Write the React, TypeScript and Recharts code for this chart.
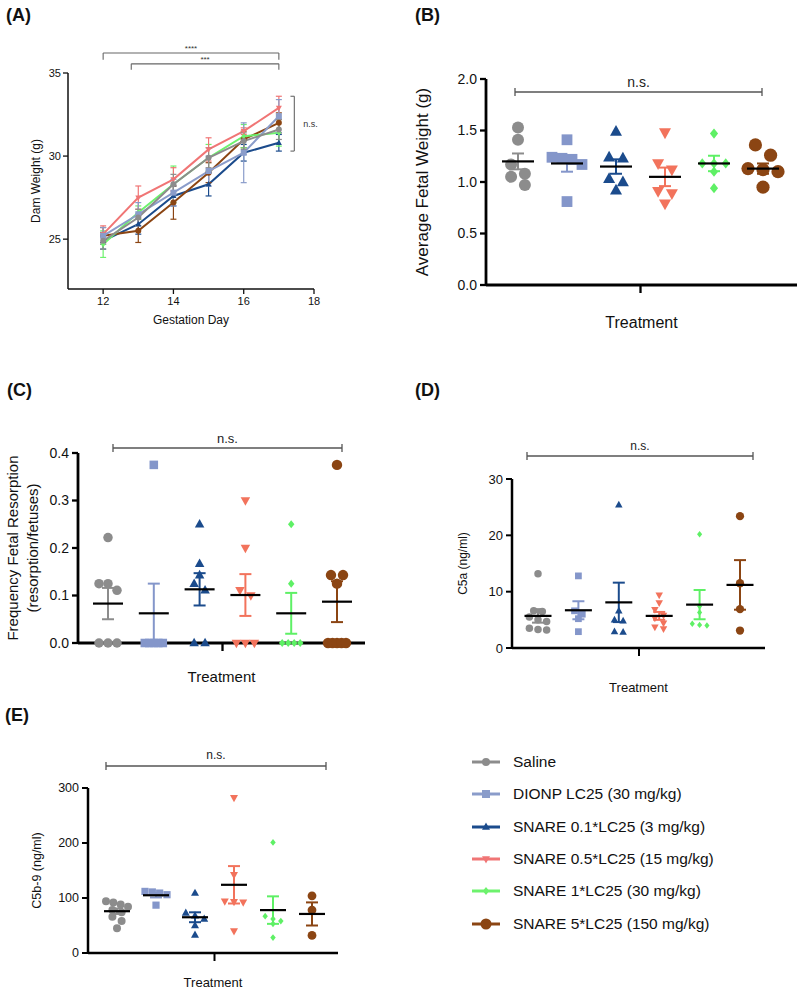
import React from "react";
import {
  ComposedChart,
  Line,
  Scatter,
  XAxis,
  YAxis,
  ErrorBar,
  ReferenceLine,
  Label,
} from "recharts";

const FONT = "'Liberation Sans', Arial, Helvetica, sans-serif";

// treatment groups (legend order)
const groupNames = [
  "Saline",
  "DIONP LC25 (30 mg/kg)",
  "SNARE 0.1*LC25 (3 mg/kg)",
  "SNARE 0.5*LC25 (15 mg/kg)",
  "SNARE 1*LC25 (30 mg/kg)",
  "SNARE 5*LC25 (150 mg/kg)",
];
const groupColors = ["#8c8c8c", "#8496ca", "#1b4b8c", "#f2735c", "#5ef065", "#8b4513"];
const lineColors = ["#8c8c8c", "#8a9cca", "#1b4b8c", "#f07575", "#6df26d", "#8b4513"];
const groupMarkers = ["circle", "square", "triangle", "down", "diamond", "circle"];
const markerScale = [1, 0.9, 1, 1, 0.85, 1.1];

// (A) dam weight by gestation day
const gestationDays = [12, 13, 14, 15, 16, 17];
const damSaline = [24.9, 26.3, 28.3, 29.9, 30.9, 31.6];
const damDionp = [25.2, 26.5, 27.8, 29.1, 30.2, 32.4];
const damSnare01 = [24.9, 25.9, 27.6, 28.3, 30.2, 30.8];
const damSnare05 = [25.3, 27.5, 28.6, 30.4, 31.5, 32.9];
const damSnare1 = [24.7, 26.6, 28.3, 29.9, 31.2, 31.4];
const damSnare5 = [25.2, 25.5, 27.2, 29.0, 31.0, 32.0];
const damSemSaline = [0.5, 0.5, 0.6, 0.6, 0.5, 0.6];
const damSemDionp = [0.5, 0.7, 0.8, 0.9, 1.8, 1.0];
const damSemSnare01 = [0.5, 0.6, 0.6, 0.7, 0.5, 0.5];
const damSemSnare05 = [0.5, 0.7, 0.7, 0.7, 0.2, 0.7];
const damSemSnare1 = [0.8, 0.4, 1.1, 0.8, 0.7, 0.8];
const damSemSnare5 = [0.5, 0.7, 1.0, 0.6, 0.5, 0.6];
const damTicksX = [12, 14, 16, 18];
const damTicksY = [25, 30, 35];

// (B) average fetal weight
const fetalSaline = [1.53, 1.41, 1.17, 1.08, 1.05, 0.97];
const fetalDionp = [1.41, 1.24, 1.23, 1.22, 1.17, 0.81];
const fetalSnare01 = [1.49, 1.24, 1.23, 1.03, 1.0, 0.92];
const fetalSnare05 = [1.48, 1.18, 1.12, 0.91, 0.89, 0.79];
const fetalSnare1 = [1.47, 1.18, 1.18, 1.18, 1.1, 0.94];
const fetalSnare5 = [1.36, 1.26, 1.13, 1.12, 1.1, 0.95];
const fetalMean = [1.2, 1.18, 1.15, 1.05, 1.18, 1.13];
const fetalSem = [0.077, 0.08, 0.07, 0.09, 0.075, 0.05];
const fetalTicks = [0, 0.5, 1, 1.5, 2];

// (C) frequency of fetal resorption
const resSaline = [0.222, 0.125, 0.125, 0.111, 0, 0, 0];
const resDionp = [0.375, 0, 0, 0, 0, 0];
const resSnare01 = [0.25, 0.167, 0.143, 0.125, 0.111, 0, 0];
const resSnare05 = [0.3, 0.2, 0.111, 0.1, 0, 0, 0];
const resSnare1 = [0.25, 0.125, 0, 0, 0, 0];
const resSnare5 = [0.375, 0.143, 0.143, 0.125, 0, 0, 0, 0, 0];
const resMean = [0.083, 0.0625, 0.113, 0.101, 0.0625, 0.087];
const resSem = [0.033, 0.0625, 0.034, 0.044, 0.043, 0.043];
const resTicks = [0, 0.1, 0.2, 0.3, 0.4];

// (D) C5a
const c5aSaline = [13.2, 6.6, 6.5, 5.5, 5.0, 4.7, 3.5, 3.3, 3.2];
const c5aDionp = [12.8, 6.6, 6.0, 5.2, 2.9];
const c5aSnare01 = [25.4, 6.6, 5.0, 4.8, 2.9, 2.8];
const c5aSnare05 = [9.4, 8.0, 6.8, 5.8, 5.3, 4.4, 3.7, 3.4];
const c5aSnare1 = [20.2, 7.4, 6.3, 4.3, 4.1, 4.0];
const c5aSnare5 = [23.4, 11.5, 6.9, 3.1];
const c5aMean = [5.7, 6.7, 8.1, 5.7, 7.7, 11.2];
const c5aSem = [1.2, 1.6, 3.5, 0.7, 2.6, 4.4];
const c5aTicks = [0, 10, 20, 30];

// (E) C5b-9
const c5bSaline = [94, 92, 88, 84, 78, 74, 66, 58, 45];
const c5bDionp = [112, 111, 109, 106, 87];
const c5bSnare01 = [109, 73, 68, 62, 50, 33];
const c5bSnare05 = [282, 142, 94, 93, 92, 40];
const c5bSnare1 = [201, 67, 62, 58, 53, 28];
const c5bSnare5 = [104, 78, 32];
const c5bMean = [76, 105, 65, 124, 78, 71];
const c5bSem = [5, 4, 9, 34, 25, 21];
const c5bTicks = [0, 100, 200, 300];

function Marker({ kind, cx, cy, size, color }: { kind: string; cx?: number; cy?: number; size: number; color: string }) {
  if (cx == null || cy == null) return null;
  const r = size / 2;
  if (kind === "circle") return <circle cx={cx} cy={cy} r={r} fill={color} />;
  if (kind === "square")
    return <rect x={cx - r} y={cy - r} width={size} height={size} fill={color} />;
  if (kind === "triangle")
    return <polygon points={`${cx},${cy - r * 1.1} ${cx + r},${cy + r * 0.7} ${cx - r},${cy + r * 0.7}`} fill={color} />;
  if (kind === "down")
    return <polygon points={`${cx},${cy + r * 1.1} ${cx + r},${cy - r * 0.7} ${cx - r},${cy - r * 0.7}`} fill={color} />;
  return <polygon points={`${cx},${cy - r} ${cx + r * 0.8},${cy} ${cx},${cy + r} ${cx - r * 0.8},${cy}`} fill={color} />;
}

// simple column scatter layout: rows of close values are spread sideways
function spread(vals: number[], pxPerUnit: number, diam: number, maxW: number) {
  const order = vals.map((v, i) => ({ v, i })).sort((a, b) => b.v - a.v);
  const offs = vals.map(() => 0);
  let row: { v: number; i: number }[] = [];
  const flush = () => {
    const n = row.length;
    const gap = n > 1 ? Math.min(diam * 1.15, maxW / (n - 1)) : 0;
    row.forEach((p, k) => (offs[p.i] = (k - (n - 1) / 2) * gap));
    row = [];
  };
  order.forEach((p) => {
    if (row.length && (row[0].v - p.v) * pxPerUnit > diam * 0.8) flush();
    row.push(p);
  });
  flush();
  return offs;
}

type Box = { left: number; top: number; width: number; height: number };
type Plot = { left: number; right: number; top: number; bottom: number };

function DotPanel(props: {
  box: Box;
  plot: Plot;
  g1: number;
  step: number;
  yMax: number;
  yTicks: number[];
  decimals: number;
  values: number[][];
  means: number[];
  sems: number[];
  marker: number;
  meanHalf: number;
  capHalf: number;
  tickFont: number;
  titles: { text: string; x: number }[];
  titleFont: number;
  xTitleFont: number;
  xTitleBase: number;
  xAxisH: number;
  bracket: { y: number; x1: number; x2: number; nsOffset: number; font: number };
  axisW: number;
  maxW: number;
}) {
  const { box, plot, g1, step, yMax } = props;
  const margin = {
    top: plot.top - box.top,
    right: box.left + box.width - plot.right,
    bottom: box.top + box.height - plot.bottom - props.xAxisH,
    left: 0,
  };
  const ppu = (plot.bottom - plot.top) / yMax;
  const toX = (px: number) => 1 + (px - g1) / step;
  const xDomain = [toX(plot.left), toX(plot.right)];
  const yb = (plot.bottom - props.bracket.y) / ppu;
  const tk = 4 / ppu;
  const bx1 = toX(props.bracket.x1);
  const bx2 = toX(props.bracket.x2);
  const bStroke = { stroke: "#555", strokeWidth: 1.3, ifOverflow: "visible" as const };

  return (
    <div style={{ position: "absolute", left: box.left, top: box.top }}>
      <ComposedChart width={box.width} height={box.height} margin={margin}>
        <XAxis
          type="number"
          dataKey="x"
          domain={xDomain}
          ticks={[3.5]}
          tickFormatter={() => ""}
          tickSize={8}
          height={props.xAxisH}
          axisLine={{ stroke: "#000", strokeWidth: props.axisW }}
          tickLine={{ stroke: "#000", strokeWidth: props.axisW - 0.5 }}
        >
          <Label
            value="Treatment"
            position="insideBottom"
            offset={plot.bottom + props.xAxisH - props.xTitleBase}
            style={{ fontSize: props.xTitleFont, fill: "#111" }}
          />
        </XAxis>
        <YAxis
          type="number"
          dataKey="y"
          domain={[0, yMax]}
          ticks={props.yTicks}
          width={plot.left - box.left}
          tickFormatter={(v: number) => v.toFixed(props.decimals)}
          tick={{ fontSize: props.tickFont, fill: "#111" }}
          tickSize={6}
          tickMargin={3}
          axisLine={{ stroke: "#000", strokeWidth: props.axisW }}
          tickLine={{ stroke: "#000", strokeWidth: props.axisW - 0.5 }}
        >
          {props.titles.map((t) => (
            <Label
              key={t.text}
              value={t.text}
              angle={-90}
              position="insideLeft"
              offset={t.x - box.left}
              style={{ textAnchor: "middle", fontSize: props.titleFont, fill: "#111" }}
            />
          ))}
        </YAxis>
        <ReferenceLine
          segment={[{ x: bx1, y: yb }, { x: bx2, y: yb }]}
          {...bStroke}
          label={{ value: "n.s.", position: "top", offset: props.bracket.nsOffset, fontSize: props.bracket.font, fill: "#222" }}
        />
        <ReferenceLine segment={[{ x: bx1, y: yb - tk }, { x: bx1, y: yb + tk }]} {...bStroke} />
        <ReferenceLine segment={[{ x: bx2, y: yb - tk }, { x: bx2, y: yb + tk }]} {...bStroke} />
        {props.values.map((vals, gi) => {
          const size = props.marker * markerScale[gi];
          const offs = spread(vals, ppu, size, props.maxW);
          const pts = vals.map((v, k) => ({ x: gi + 1 + offs[k] / step, y: v }));
          return (
            <Scatter
              key={"p" + gi}
              data={pts}
              isAnimationActive={false}
              shape={(p: any) => (
                <Marker kind={groupMarkers[gi]} cx={p.cx} cy={p.cy} size={size} color={groupColors[gi]} />
              )}
            />
          );
        })}
        {props.means.map((m, gi) => (
          <Scatter
            key={"m" + gi}
            data={[{ x: gi + 1, y: m, e: props.sems[gi] }]}
            isAnimationActive={false}
            shape={(p: any) => (
              <line
                x1={p.cx - props.meanHalf}
                x2={p.cx + props.meanHalf}
                y1={p.cy}
                y2={p.cy}
                stroke="#000"
                strokeWidth={2.2}
              />
            )}
          >
            <ErrorBar dataKey="e" direction="y" width={props.capHalf} stroke={groupColors[gi]} strokeWidth={2} />
          </Scatter>
        ))}
      </ComposedChart>
    </div>
  );
}

function DamPanel() {
  const series = [damSaline, damDionp, damSnare01, damSnare05, damSnare1, damSnare5];
  const sems = [damSemSaline, damSemDionp, damSemSnare01, damSemSnare05, damSemSnare1, damSemSnare5];
  const drawOrder = [2, 5, 4, 3, 1, 0];
  const br = { stroke: "#666", strokeWidth: 1.1, ifOverflow: "visible" as const };
  return (
    <div style={{ position: "absolute", left: 0, top: 0 }}>
      <ComposedChart width={340} height={330} margin={{ top: 73, right: 26, bottom: 1, left: 0 }}>
        <XAxis
          type="number"
          dataKey="x"
          domain={[11, 18]}
          ticks={damTicksX}
          height={40}
          tick={{ fontSize: 11, fill: "#111" }}
          tickSize={5}
          tickMargin={3}
          axisLine={{ stroke: "#111", strokeWidth: 1.5 }}
          tickLine={{ stroke: "#111", strokeWidth: 1.3 }}
        >
          <Label value="Gestation Day" position="insideBottom" offset={5} style={{ fontSize: 12, fill: "#111" }} />
        </XAxis>
        <YAxis
          type="number"
          dataKey="y"
          domain={[22, 35]}
          ticks={damTicksY}
          width={68}
          tick={{ fontSize: 11, fill: "#111" }}
          tickSize={5}
          tickMargin={2}
          axisLine={{ stroke: "#111", strokeWidth: 1.5 }}
          tickLine={{ stroke: "#111", strokeWidth: 1.3 }}
        >
          <Label
            value="Dam Weight (g)"
            angle={-90}
            position="insideLeft"
            offset={36}
            style={{ textAnchor: "middle", fontSize: 12, fill: "#111" }}
          />
        </YAxis>
        <ReferenceLine
          segment={[{ x: 12, y: 36.2 }, { x: 17, y: 36.2 }]}
          {...br}
          label={{ value: "****", position: "top", offset: 2, fontSize: 8, fill: "#333" }}
        />
        <ReferenceLine segment={[{ x: 12, y: 36.2 }, { x: 12, y: 35.8 }]} {...br} />
        <ReferenceLine segment={[{ x: 17, y: 36.2 }, { x: 17, y: 35.8 }]} {...br} />
        <ReferenceLine
          segment={[{ x: 12.8, y: 35.55 }, { x: 17, y: 35.55 }]}
          {...br}
          label={{ value: "***", position: "top", offset: 2, fontSize: 8, fill: "#333" }}
        />
        <ReferenceLine segment={[{ x: 12.8, y: 35.55 }, { x: 12.8, y: 35.2 }]} {...br} />
        <ReferenceLine segment={[{ x: 17, y: 35.55 }, { x: 17, y: 35.2 }]} {...br} />
        <ReferenceLine
          segment={[{ x: 17.44, y: 33.6 }, { x: 17.44, y: 30.3 }]}
          {...br}
          label={{ value: "n.s.", position: "right", offset: 9, fontSize: 9, fill: "#333" }}
        />
        <ReferenceLine segment={[{ x: 17.33, y: 33.6 }, { x: 17.44, y: 33.6 }]} {...br} />
        <ReferenceLine segment={[{ x: 17.33, y: 30.3 }, { x: 17.44, y: 30.3 }]} {...br} />
        {drawOrder.map((gi) => (
          <Line
            key={gi}
            data={gestationDays.map((d, k) => ({ x: d, y: series[gi][k], e: sems[gi][k] }))}
            dataKey="y"
            stroke={lineColors[gi]}
            strokeWidth={2}
            isAnimationActive={false}
            dot={(p: any) => (
              <Marker key={p.index} kind={groupMarkers[gi]} cx={p.cx} cy={p.cy} size={6} color={lineColors[gi]} />
            )}
          >
            <ErrorBar dataKey="e" direction="y" width={3} stroke={lineColors[gi]} strokeWidth={1.2} />
          </Line>
        ))}
      </ComposedChart>
    </div>
  );
}

function Legend() {
  return (
    <div style={{ position: "absolute", left: 472, top: 746 }}>
      {groupNames.map((g, i) => (
        <div key={g} style={{ height: 32.3, display: "flex", alignItems: "center" }}>
          <svg width={30} height={16}>
            <line x1={0} x2={28} y1={8} y2={8} stroke={lineColors[i]} strokeWidth={3} />
            <Marker kind={groupMarkers[i]} cx={14} cy={8} size={i === 5 ? 11 : 8} color={lineColors[i]} />
          </svg>
          <span style={{ marginLeft: 11, fontSize: 15.5, color: "#111" }}>{g}</span>
        </div>
      ))}
    </div>
  );
}

const panelLabel = (text: string, left: number, top: number) => (
  <div
    style={{ position: "absolute", left, top, fontSize: 18, fontWeight: "bold", lineHeight: "18px", color: "#111" }}
  >
    {text}
  </div>
);

export default function App() {
  return (
    <div
      style={{
        position: "absolute",
        left: 0,
        top: 0,
        width: 800,
        height: 989,
        background: "#fff",
        fontFamily: FONT,
        overflow: "hidden",
      }}
    >
      {panelLabel("(A)", 6, 6)}
      {panelLabel("(B)", 415, 6)}
      {panelLabel("(C)", 7, 381)}
      {panelLabel("(D)", 415, 381)}
      {panelLabel("(E)", 5, 706)}
      <DamPanel />
      <DotPanel
        box={{ left: 400, top: 40, width: 400, height: 300 }}
        plot={{ left: 486, right: 797, top: 79, bottom: 285 }}
        g1={518}
        step={49}
        yMax={2}
        yTicks={fetalTicks}
        decimals={1}
        values={[fetalSaline, fetalDionp, fetalSnare01, fetalSnare05, fetalSnare1, fetalSnare5]}
        means={fetalMean}
        sems={fetalSem}
        marker={12}
        meanHalf={16}
        capHalf={6}
        tickFont={14}
        titles={[{ text: "Average Fetal Weight (g)", x: 422 }]}
        titleFont={17}
        xTitleFont={16}
        xTitleBase={328}
        xAxisH={48}
        bracket={{ y: 92, x1: 515, x2: 762, nsOffset: 5, font: 14 }}
        axisW={2.8}
        maxW={30}
      />
      <DotPanel
        box={{ left: 0, top: 400, width: 380, height: 290 }}
        plot={{ left: 78, right: 365, top: 453, bottom: 643 }}
        g1={108}
        step={45.8}
        yMax={0.4}
        yTicks={resTicks}
        decimals={1}
        values={[resSaline, resDionp, resSnare01, resSnare05, resSnare1, resSnare5]}
        means={resMean}
        sems={resSem}
        marker={9.5}
        meanHalf={15}
        capHalf={6}
        tickFont={14}
        titles={[
          { text: "Frequency Fetal Resorption", x: 13 },
          { text: "(resorption/fetuses)", x: 33 },
        ]}
        titleFont={15}
        xTitleFont={15}
        xTitleBase={682}
        xAxisH={44}
        bracket={{ y: 448, x1: 113, x2: 342, nsOffset: 5, font: 13 }}
        axisW={2.8}
        maxW={18}
      />
      <DotPanel
        box={{ left: 400, top: 410, width: 380, height: 290 }}
        plot={{ left: 512, right: 765, top: 479, bottom: 648 }}
        g1={538}
        step={40.4}
        yMax={30}
        yTicks={c5aTicks}
        decimals={0}
        values={[c5aSaline, c5aDionp, c5aSnare01, c5aSnare05, c5aSnare1, c5aSnare5]}
        means={c5aMean}
        sems={c5aSem}
        marker={7.5}
        meanHalf={13.5}
        capHalf={6}
        tickFont={13}
        titles={[{ text: "C5a (ng/ml)", x: 463 }]}
        titleFont={12}
        xTitleFont={13}
        xTitleBase={692}
        xAxisH={49}
        bracket={{ y: 456, x1: 527, x2: 753, nsOffset: 6, font: 12 }}
        axisW={2.5}
        maxW={24}
      />
      <DotPanel
        box={{ left: 0, top: 740, width: 360, height: 249 }}
        plot={{ left: 88, right: 338, top: 788, bottom: 953 }}
        g1={117}
        step={39}
        yMax={300}
        yTicks={c5bTicks}
        decimals={0}
        values={[c5bSaline, c5bDionp, c5bSnare01, c5bSnare05, c5bSnare1, c5bSnare5]}
        means={c5bMean}
        sems={c5bSem}
        marker={8}
        meanHalf={13}
        capHalf={6}
        tickFont={12.5}
        titles={[{ text: "C5b-9 (ng/ml)", x: 37 }]}
        titleFont={12.5}
        xTitleFont={13}
        xTitleBase={987}
        xAxisH={35}
        bracket={{ y: 766, x1: 106, x2: 326, nsOffset: 7, font: 12 }}
        axisW={2.5}
        maxW={22}
      />
      <Legend />
    </div>
  );
}
